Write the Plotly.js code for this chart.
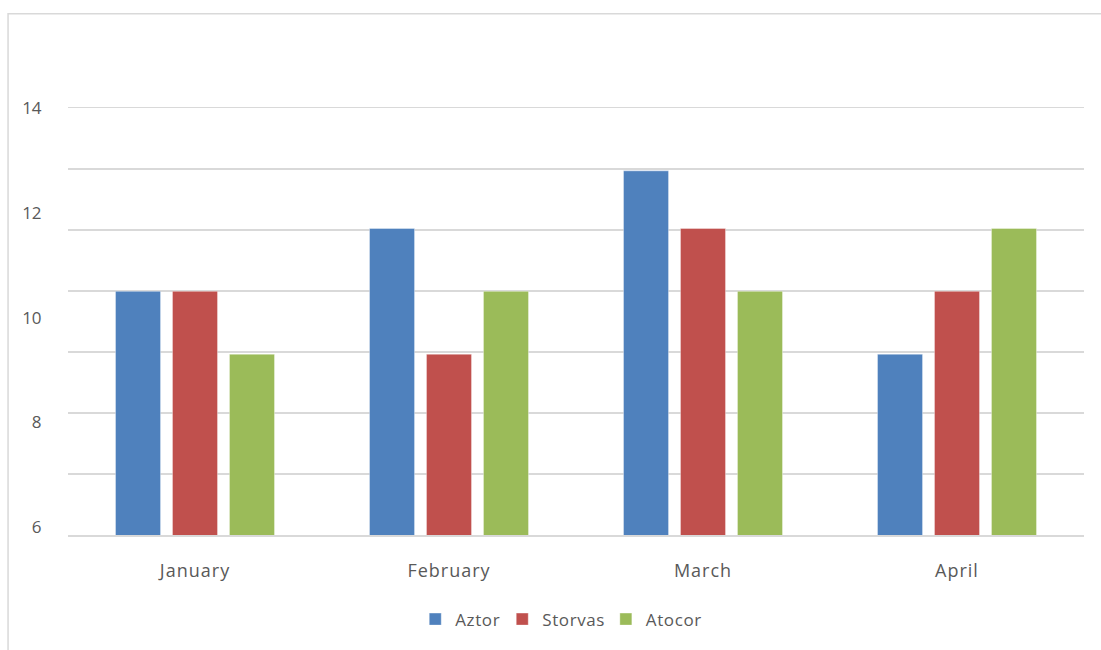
<!DOCTYPE html>
<html>
<head>
<meta charset="utf-8">
<script src="https://cdn.plot.ly/plotly-3.0.1.min.js"></script>
<style>
  html, body { margin: 0; padding: 0; background: #ffffff; }
  #chart { width: 1101px; height: 650px; }
  /* slightly airier month labels and legend text */
  #chart .xtick text { letter-spacing: 1px; }
  #chart .legendtext { letter-spacing: 0.6px; }
</style>
</head>
<body>
<div id="chart"></div>
<script>
// Monthly values per product line
const months = ['January', 'February', 'March', 'April'];
const aztor = [10.5, 11.7, 12.8, 9.3];
const storvas = [10.5, 9.3, 11.7, 10.5];
const atocor = [9.3, 10.5, 10.5, 11.7];

const seriesNames = ['Aztor', 'Storvas', 'Atocor'];
const seriesColors = ['#4F81BD', '#C0504D', '#9BBB59'];
const yTickVals = [6, 8, 10, 12, 14];

const yMin = 5.85, yMax = 14;
const gridStep = (yMax - yMin) / 7;

const traces = [aztor, storvas, atocor].map((vals, i) => ({
  type: 'bar',
  name: seriesNames[i],
  x: months,
  y: vals,
  marker: { color: seriesColors[i], line: { color: 'rgba(255,255,255,0.35)', width: 1 } },
  hoverinfo: 'x+y+name'
}));

const textFont = { family: 'Open Sans, Segoe UI, sans-serif', size: 17, color: '#595959' };
const monthFont = { family: 'Open Sans, Segoe UI, sans-serif', size: 18, color: '#595959' };

const layout = {
  width: 1101,
  height: 650,
  margin: { l: 68, r: 17, t: 108, b: 112 },
  paper_bgcolor: '#ffffff',
  plot_bgcolor: '#ffffff',
  font: textFont,
  barmode: 'group',
  bargap: 0.327,
  bargroupgap: 0.21,
  showlegend: true,
  legend: {
    orientation: 'h',
    x: 0.484, xanchor: 'center',
    y: -0.198, yanchor: 'middle',
    font: textFont,
    itemwidth: 30,
    traceorder: 'normal'
  },
  xaxis: {
    type: 'category',
    showgrid: false,
    zeroline: false,
    showline: true,
    mirror: true,
    linecolor: '#d9d9d9',
    linewidth: 1.5,
    ticks: 'outside',
    ticklen: 19,
    tickcolor: 'rgba(0,0,0,0)',
    tickfont: monthFont,
    fixedrange: true
  },
  yaxis: {
    range: [yMin, yMax],
    tickmode: 'array',
    tickvals: yTickVals,
    ticktext: yTickVals.map(String),
    showgrid: false,
    zeroline: false,
    showline: false,
    ticks: 'outside',
    ticklen: 22,
    tickcolor: 'rgba(0,0,0,0)',
    tickfont: textFont,
    minor: {
      tickmode: 'linear',
      tick0: yMin,
      dtick: gridStep,
      showgrid: true,
      gridcolor: '#d9d9d9',
      gridwidth: 1.5,
      ticks: ''
    },
    fixedrange: true
  },
  shapes: [{
    type: 'rect',
    xref: 'paper', yref: 'paper',
    x0: -0.059, x1: 1.2,
    y0: -0.6, y1: 1.2209,
    line: { color: '#d9d9d9', width: 1.5 },
    fillcolor: 'rgba(0,0,0,0)',
    layer: 'below'
  }]
};

Plotly.newPlot('chart', traces, layout, { displayModeBar: false, staticPlot: true });
</script>
</body>
</html>
